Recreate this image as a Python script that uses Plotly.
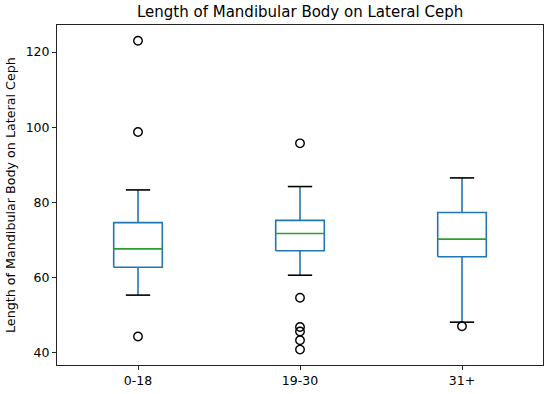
import plotly.graph_objects as go

groups = ["0-18", "19-30", "31+"]
q1 = [62.7, 67.1, 65.5]
median = [67.6, 71.7, 70.2]
q3 = [74.6, 75.2, 77.3]
whisk_lo = [55.3, 60.6, 48.1]
whisk_hi = [83.3, 84.2, 86.5]
outliers = [[123.0, 98.7, 44.3], [95.7, 54.6, 46.8, 45.6, 43.3, 40.8], [47.0]]
y_ticks = [40, 60, 80, 100, 120]

positions = [1, 2, 3]
half_w = 0.15
cap_half = 0.075

BLUE = "#1f77b4"
GREEN = "#2ca02c"
FONT = "DejaVu Sans"

box_x, box_y = [], []
wh_x, wh_y = [], []
cap_x, cap_y = [], []
med_x, med_y = [], []
fl_x, fl_y = [], []
for i, p in enumerate(positions):
    box_x += [p - half_w, p + half_w, p + half_w, p - half_w, p - half_w, None]
    box_y += [q1[i], q1[i], q3[i], q3[i], q1[i], None]
    wh_x += [p, p, None, p, p, None]
    wh_y += [q1[i], whisk_lo[i], None, q3[i], whisk_hi[i], None]
    cap_x += [p - cap_half, p + cap_half, None, p - cap_half, p + cap_half, None]
    cap_y += [whisk_lo[i], whisk_lo[i], None, whisk_hi[i], whisk_hi[i], None]
    med_x += [p - half_w, p + half_w, None]
    med_y += [median[i], median[i], None]
    for v in outliers[i]:
        fl_x.append(p)
        fl_y.append(v)

fig = go.Figure()
fig.add_trace(go.Scatter(x=box_x, y=box_y, mode="lines", line=dict(color=BLUE, width=1.6), hoverinfo="skip"))
fig.add_trace(go.Scatter(x=wh_x, y=wh_y, mode="lines", line=dict(color=BLUE, width=1.6), hoverinfo="skip"))
fig.add_trace(go.Scatter(x=cap_x, y=cap_y, mode="lines", line=dict(color="black", width=1.6), hoverinfo="skip"))
fig.add_trace(go.Scatter(x=med_x, y=med_y, mode="lines", line=dict(color=GREEN, width=1.6), hoverinfo="skip"))
fig.add_trace(go.Scatter(x=fl_x, y=fl_y, mode="markers",
                         marker=dict(symbol="circle-open", size=8.5, color="black", line=dict(width=1.4, color="black"))))

fig.update_layout(
    width=550, height=394,
    margin=dict(l=57, r=6, t=25, b=26),
    paper_bgcolor="white", plot_bgcolor="white",
    showlegend=False,
    font=dict(family=FONT, size=12.5, color="black"),
    xaxis=dict(range=[0.5, 3.5], tickvals=positions, ticktext=groups,
               showgrid=False, zeroline=False, showline=True, mirror=True,
               linecolor="#222", linewidth=1, ticks="outside", ticklen=4,
               tickcolor="#222", tickfont=dict(size=12.5)),
    yaxis=dict(range=[36.7, 127.2], tickvals=y_ticks,
               showgrid=False, zeroline=False, showline=True, mirror=True,
               linecolor="#222", linewidth=1, ticks="outside", ticklen=4,
               tickcolor="#222", tickfont=dict(size=12.5)),
    annotations=[
        dict(text="Length of Mandibular Body on Lateral Ceph", xref="paper", yref="paper",
             x=0.5, y=1, yshift=13, xanchor="center", yanchor="middle", showarrow=False,
             font=dict(size=15, family=FONT, color="black")),
        dict(text="Length of Mandibular Body on Lateral Ceph", xref="paper", yref="paper",
             x=0, xshift=-47, y=0.5, xanchor="center", yanchor="middle", textangle=-90,
             showarrow=False, font=dict(size=12.7, family=FONT, color="black")),
    ],
)

fig.write_html("out.html", config={"displayModeBar": False},
               post_script="document.body.style.margin='0';document.body.style.overflow='hidden';")
